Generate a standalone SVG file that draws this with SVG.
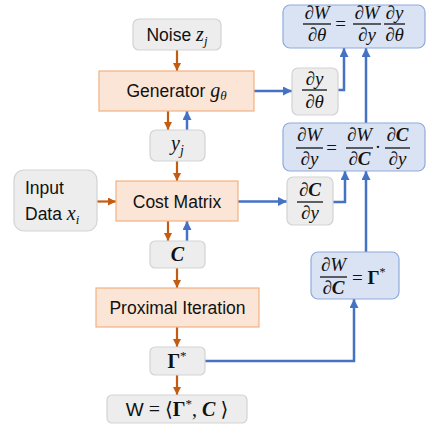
<svg xmlns="http://www.w3.org/2000/svg" width="428" height="427" viewBox="0 0 428 427">
<style>
.g{fill:#EDEDED;stroke:#D3D3D3;stroke-width:1.2}
.o{fill:#FBE5D6;stroke:#F4B183;stroke-width:1.2}
.b{fill:#DAE3F3;stroke:#8FAADC;stroke-width:1.2}
.t{font-family:"Liberation Sans","DejaVu Sans",sans-serif;font-size:17.5px;fill:#111}
.m{font-family:"Liberation Serif","DejaVu Serif",serif;font-size:20px;font-style:italic;fill:#111}
.mf{font-family:"Liberation Serif","DejaVu Serif",serif;font-size:19px;font-style:italic;fill:#111}
.up{font-style:normal}
.bd{font-weight:bold}
.fl{stroke:#111;stroke-width:1.3}
.ao{stroke:#C55A11;stroke-width:2.2;fill:none}
.ab{stroke:#4472C4;stroke-width:2.5;fill:none}
</style>
<defs>
<marker id="mo" viewBox="0 0 10 10" refX="10" refY="5" markerWidth="8" markerHeight="8" markerUnits="userSpaceOnUse" orient="auto"><path d="M0,0 L10,5 L0,10 z" fill="#C55A11"/></marker>
<marker id="mb" viewBox="0 0 10 10" refX="10" refY="5" markerWidth="9" markerHeight="9" markerUnits="userSpaceOnUse" orient="auto"><path d="M0,0 L10,5 L0,10 z" fill="#4472C4"/></marker>
</defs>

<g id="connectors">
<line class="ao" x1="177" y1="50" x2="177" y2="71" marker-end="url(#mo)"/>
<line class="ao" x1="168" y1="111" x2="168" y2="130" marker-end="url(#mo)"/>
<line class="ab" x1="187" y1="130" x2="187" y2="111" marker-end="url(#mb)"/>
<line class="ao" x1="177" y1="161" x2="177" y2="181" marker-end="url(#mo)"/>
<line class="ao" x1="97" y1="201.5" x2="116" y2="201.5" marker-end="url(#mo)"/>
<line class="ao" x1="168" y1="221" x2="168" y2="241" marker-end="url(#mo)"/>
<line class="ab" x1="187" y1="241" x2="187" y2="221" marker-end="url(#mb)"/>
<line class="ao" x1="177" y1="268" x2="177" y2="288" marker-end="url(#mo)"/>
<line class="ao" x1="177" y1="327" x2="177" y2="347" marker-end="url(#mo)"/>
<line class="ao" x1="177" y1="375" x2="177" y2="395" marker-end="url(#mo)"/>
<line class="ab" x1="254" y1="91" x2="292" y2="91" marker-end="url(#mb)"/>
<line class="ab" x1="238" y1="201.5" x2="287" y2="201.5" marker-end="url(#mb)"/>
<polyline class="ab" points="338,90 344,90 344,48" marker-end="url(#mb)"/>
<line class="ab" x1="366" y1="123" x2="366" y2="48" marker-end="url(#mb)"/>
<polyline class="ab" points="333,202 345,202 345,171" marker-end="url(#mb)"/>
<line class="ab" x1="366" y1="252" x2="366" y2="171" marker-end="url(#mb)"/>
<polyline class="ab" points="205,361 354,361 354,299" marker-end="url(#mb)"/>
</g>

<g id="noise"><rect class="g" x="133" y="19" width="88" height="31" rx="6"/>
<text x="177" y="41" text-anchor="middle" class="t">Noise <tspan class="m">z</tspan><tspan class="m" style="font-size:13px" dy="4">j</tspan></text></g>

<g id="generator"><rect class="o" x="99" y="71" width="155" height="40"/>
<text x="176.5" y="97" text-anchor="middle" class="t">Generator <tspan class="m">g</tspan><tspan class="m" style="font-size:13px" dy="3">θ</tspan></text></g>

<g id="yj"><rect class="g" x="150" y="130" width="55" height="31" rx="6"/>
<text x="177.5" y="150" text-anchor="middle" class="m">y<tspan style="font-size:14px" dy="5">j</tspan></text></g>

<g id="input"><rect class="g" x="14" y="170" width="83" height="61" rx="10"/>
<text x="25" y="194" class="t">Input</text>
<text x="25" y="220" class="t">Data <tspan class="m">x</tspan><tspan class="m" style="font-size:13px" dy="4">i</tspan></text></g>

<g id="cost"><rect class="o" x="116" y="181" width="122" height="40"/>
<text x="177" y="207.5" text-anchor="middle" class="t">Cost Matrix</text></g>

<g id="c"><rect class="g" x="150" y="241" width="55" height="27" rx="5"/>
<text x="177.5" y="261" text-anchor="middle" class="m bd">C</text></g>

<g id="proximal"><rect class="o" x="96" y="288" width="163" height="39"/>
<text x="177.5" y="314" text-anchor="middle" class="t">Proximal Iteration</text></g>

<g id="gamma"><rect class="g" x="150" y="347" width="55" height="28" rx="5"/>
<text x="177" y="368" text-anchor="middle" class="m up bd">Γ<tspan style="font-weight:normal;font-size:13px" dy="-8">*</tspan></text></g>

<g id="w"><rect class="g" x="107" y="395" width="140" height="28" rx="5"/>
<text x="177" y="416" text-anchor="middle" class="m up"><tspan class="t" style="font-size:19px">W</tspan> = ⟨<tspan class="bd">Γ</tspan><tspan style="font-size:13px" dy="-8">*</tspan><tspan dy="8">, </tspan><tspan class="bd" style="font-style:italic">C</tspan> ⟩</text></g>

<g id="dydtheta"><rect class="g" x="292" y="68" width="46" height="47" rx="6"/>
<text x="314.5" y="85" text-anchor="middle" class="mf">∂y</text>
<line class="fl" x1="302" y1="90" x2="327" y2="90"/>
<text x="314.5" y="108" text-anchor="middle" class="mf">∂θ</text></g>

<g id="dcdy"><rect class="g" x="287" y="177" width="46" height="48" rx="6"/>
<text x="310" y="196" text-anchor="middle" class="mf">∂<tspan class="bd">C</tspan></text>
<line class="fl" x1="297" y1="202" x2="323" y2="202"/>
<text x="310" y="219" text-anchor="middle" class="mf">∂y</text></g>

<g id="top-formula"><rect class="b" x="283" y="5" width="142" height="43" rx="7"/>
<text x="317" y="19" text-anchor="middle" class="mf">∂W</text>
<line class="fl" x1="303" y1="24" x2="331" y2="24"/>
<text x="317" y="41" text-anchor="middle" class="mf">∂θ</text>
<text x="340.5" y="30" text-anchor="middle" class="mf up">=</text>
<text x="367" y="19" text-anchor="middle" class="mf">∂W</text>
<line class="fl" x1="353" y1="24" x2="381" y2="24"/>
<text x="367" y="41" text-anchor="middle" class="mf">∂y</text>
<text x="394.5" y="19" text-anchor="middle" class="mf">∂y</text>
<line class="fl" x1="384" y1="24" x2="405" y2="24"/>
<text x="394.5" y="41" text-anchor="middle" class="mf">∂θ</text></g>

<g id="mid-formula"><rect class="b" x="283" y="123" width="142" height="48" rx="7"/>
<text x="309.5" y="141" text-anchor="middle" class="mf">∂W</text>
<line class="fl" x1="296" y1="148" x2="323" y2="148"/>
<text x="309.5" y="165" text-anchor="middle" class="mf">∂y</text>
<text x="331.5" y="154" text-anchor="middle" class="mf up">=</text>
<text x="359.5" y="141" text-anchor="middle" class="mf">∂W</text>
<line class="fl" x1="346" y1="148" x2="373" y2="148"/>
<text x="359.5" y="165" text-anchor="middle" class="mf">∂<tspan class="bd">C</tspan></text>
<text x="378" y="153" text-anchor="middle" class="mf up">·</text>
<text x="397.5" y="141" text-anchor="middle" class="mf">∂<tspan class="bd">C</tspan></text>
<line class="fl" x1="385" y1="148" x2="410" y2="148"/>
<text x="397.5" y="165" text-anchor="middle" class="mf">∂y</text></g>

<g id="dwdc"><rect class="b" x="311" y="252" width="88" height="47" rx="7"/>
<text x="333.5" y="271" text-anchor="middle" class="mf">∂W</text>
<line class="fl" x1="320" y1="277" x2="347" y2="277"/>
<text x="333.5" y="294" text-anchor="middle" class="mf">∂<tspan class="bd">C</tspan></text>
<text x="352" y="284" class="mf up">= <tspan class="bd">Γ</tspan><tspan style="font-size:12px" dy="-8">*</tspan></text></g>
</svg>
